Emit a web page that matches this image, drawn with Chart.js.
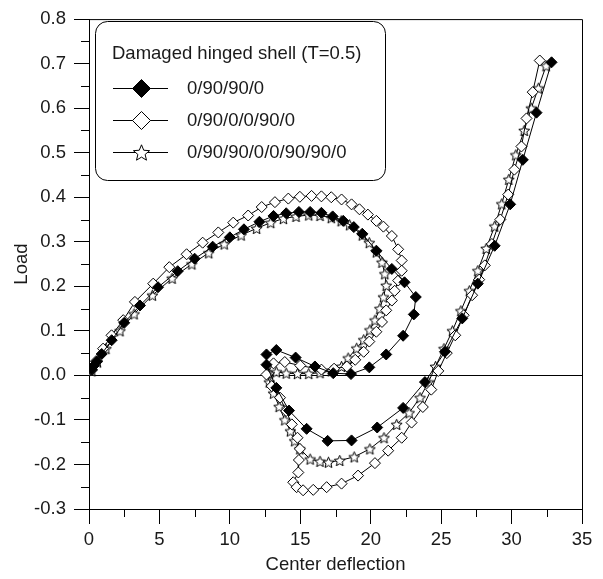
<!DOCTYPE html>
<html><head><meta charset="utf-8">
<script src="https://cdn.jsdelivr.net/npm/chart.js@4/dist/chart.umd.min.js"></script>
<style>html,body{margin:0;padding:0;background:#fff}canvas{display:block}</style>
</head><body>
<canvas id="c" width="603" height="579"></canvas>
<script>
// ---------- data ----------
const legendTitle = 'Damaged hinged shell (T=0.5)';
const seriesNames = ['0/90/90/0', '0/90/0/0/90/0', '0/90/90/0/0/90/90/0'];
const xAxisTitle = 'Center deflection';
const yAxisTitle = 'Load';
const xTickValues = [0, 5, 10, 15, 20, 25, 30, 35];
const yTickValues = [-0.3, -0.2, -0.1, 0.0, 0.1, 0.2, 0.3, 0.4, 0.5, 0.6, 0.7, 0.8];
const xMinorTicks = [2.5, 7.5, 12.5, 17.5, 22.5, 27.5, 32.5];
const yMinorTicks = [-0.25, -0.15, -0.05, 0.05, 0.15, 0.25, 0.35, 0.45, 0.55, 0.65, 0.75];

// 0/90/90/0 (filled diamonds)
const s1x = [0.19,0.35,0.55,0.9,1.61,2.5,3.62,4.9,6.3,7.5,8.78,10.0,11.0,12.1,13.1,14.0,14.9,15.7,16.5,17.3,18.05,18.8,19.4,20.4,21.5,22.4,23.2,23.06,22.3,21.1,19.9,18.6,17.34,16.04,14.67,13.3,12.6,12.6,13.3,14.2,15.45,16.94,18.64,20.46,22.3,23.85,25.27,26.5,27.6,28.8,29.9,30.8,31.77,32.84];
const s1y = [0.013,0.022,0.031,0.048,0.079,0.118,0.157,0.198,0.234,0.262,0.289,0.31,0.328,0.345,0.358,0.364,0.367,0.367,0.365,0.357,0.347,0.333,0.318,0.28,0.239,0.209,0.176,0.137,0.089,0.047,0.018,0.003,0.005,0.02,0.04,0.057,0.047,0.024,-0.028,-0.079,-0.12,-0.147,-0.146,-0.117,-0.073,-0.015,0.053,0.128,0.206,0.291,0.384,0.484,0.59,0.703];

// 0/90/0/0/90/0 (open diamonds)
const s2x = [0.2,0.5,1.0,1.6,2.43,3.26,4.56,5.7,6.93,8.07,9.18,10.24,11.3,12.26,13.2,14.15,14.97,15.8,16.5,17.2,17.93,18.64,19.2,19.8,20.4,20.9,21.5,21.95,22.2,22.2,21.95,21.7,21.5,21.1,20.8,20.4,19.9,19.5,18.9,18.3,17.4,16.5,15.0,13.9,13.1,12.6,12.97,13.56,14.0,14.4,14.8,14.97,14.9,14.86,14.5,14.74,15.2,15.92,16.87,17.93,19.1,20.3,21.24,22.2,22.9,23.7,24.3,24.8,25.4,26.0,26.6,27.2,27.7,28.1,28.6,29.2,29.76,30.2,30.7,31.06,31.5,32.0];
const s2y = [0.012,0.032,0.06,0.09,0.124,0.165,0.206,0.243,0.272,0.298,0.321,0.343,0.359,0.378,0.389,0.397,0.401,0.403,0.402,0.4,0.395,0.384,0.373,0.361,0.347,0.334,0.313,0.283,0.258,0.235,0.213,0.19,0.168,0.146,0.12,0.098,0.076,0.053,0.035,0.02,0.015,0.013,0.022,0.03,0.027,0.002,-0.024,-0.05,-0.08,-0.11,-0.14,-0.165,-0.19,-0.218,-0.24,-0.251,-0.258,-0.257,-0.251,-0.243,-0.225,-0.197,-0.169,-0.14,-0.106,-0.071,-0.032,0.01,0.05,0.09,0.135,0.18,0.215,0.247,0.295,0.35,0.406,0.462,0.514,0.577,0.636,0.707];

// 0/90/90/0/0/90/90/0 (open stars)
const s3x = [0.2,0.6,1.2,2.2,3.2,4.5,5.9,7.3,8.5,9.6,10.8,11.9,12.9,13.8,14.7,15.6,16.4,17.2,17.9,18.5,19.4,19.9,20.4,20.8,21.0,21.1,20.9,20.65,20.3,19.94,19.5,19.0,18.4,17.93,17.2,16.4,15.6,14.8,14.0,13.3,12.8,12.8,13.1,13.5,13.9,14.3,14.6,14.97,15.7,16.4,17.0,17.8,18.83,19.94,20.94,21.84,22.73,23.5,24.1,24.6,25.2,25.8,26.4,27.0,27.6,28.2,28.8,29.3,29.8,30.3,30.9,31.4,31.9,32.45];
const s3y = [0.01,0.03,0.06,0.1,0.138,0.18,0.218,0.25,0.275,0.295,0.315,0.33,0.343,0.352,0.357,0.36,0.359,0.354,0.347,0.338,0.315,0.298,0.277,0.254,0.228,0.202,0.176,0.15,0.124,0.102,0.08,0.061,0.039,0.02,0.01,0.006,0.004,0.004,0.005,0.008,0.004,-0.015,-0.04,-0.07,-0.1,-0.125,-0.147,-0.165,-0.188,-0.193,-0.195,-0.191,-0.183,-0.165,-0.14,-0.11,-0.084,-0.05,-0.015,0.02,0.06,0.1,0.145,0.19,0.235,0.285,0.335,0.385,0.44,0.495,0.55,0.6,0.645,0.695];

// ---------- helpers ----------
const pts = (xs, ys) => xs.map((x, i) => ({x, y: ys[i]}));

function starPath(ctx, cx, cy, R, r) {
  ctx.beginPath();
  for (let i = 0; i < 10; i++) {
    const rad = i % 2 === 0 ? R : r;
    const a = -Math.PI / 2 + i * Math.PI / 5;
    const px = cx + rad * Math.cos(a), py = cy + rad * Math.sin(a);
    if (i === 0) ctx.moveTo(px, py); else ctx.lineTo(px, py);
  }
  ctx.closePath();
}
function makeStar(size) {
  const c = document.createElement('canvas');
  c.width = size; c.height = size;
  const g = c.getContext('2d');
  starPath(g, size / 2, size / 2 + 0.6, size / 2 - 0.7, (size / 2 - 0.7) * 0.45);
  g.fillStyle = '#fff'; g.fill();
  g.strokeStyle = '#000'; g.lineWidth = 1; g.stroke();
  return c;
}
const starImg = makeStar(13);

const FONT = "'Liberation Sans', Arial, sans-serif";
const FS = 18.5;
const TXT = '#1a1a1a';

const decor = {
  id: 'decor',
  beforeDatasetsDraw(chart) {
    const {ctx, chartArea: a, scales: {y}} = chart;
    ctx.save();
    ctx.strokeStyle = '#000'; ctx.lineWidth = 1;
    const y0 = Math.round(y.getPixelForValue(0)) + 0.5;
    ctx.beginPath(); ctx.moveTo(a.left, y0); ctx.lineTo(a.right, y0); ctx.stroke();
    ctx.restore();
  },
  afterDraw(chart) {
    const {ctx, chartArea: a, scales: {x, y}} = chart;
    ctx.save();
    ctx.strokeStyle = '#000'; ctx.lineWidth = 1;
    // top & right frame
    ctx.beginPath();
    ctx.moveTo(a.left, a.top + 0.5); ctx.lineTo(Math.round(a.right) + 0.5, a.top + 0.5);
    ctx.lineTo(Math.round(a.right) + 0.5, a.bottom);
    ctx.stroke();
    // minor ticks
    ctx.beginPath();
    xMinorTicks.forEach(v => {
      const px = Math.round(x.getPixelForValue(v)) + 0.5;
      ctx.moveTo(px, a.bottom); ctx.lineTo(px, a.bottom + 8);
    });
    yMinorTicks.forEach(v => {
      const py = Math.round(y.getPixelForValue(v)) + 0.5;
      ctx.moveTo(a.left, py); ctx.lineTo(a.left - 8, py);
    });
    ctx.stroke();
    // legend box
    const bx = 95.5, by = 21.5, bw = 290, bh = 159, br = 12;
    ctx.beginPath();
    ctx.moveTo(bx + br, by);
    ctx.arcTo(bx + bw, by, bx + bw, by + bh, br);
    ctx.arcTo(bx + bw, by + bh, bx, by + bh, br);
    ctx.arcTo(bx, by + bh, bx, by, br);
    ctx.arcTo(bx, by, bx + bw, by, br);
    ctx.closePath();
    ctx.fillStyle = '#fff'; ctx.fill(); ctx.stroke();
    ctx.fillStyle = TXT;
    ctx.font = FS + 'px ' + FONT;
    ctx.textBaseline = 'middle'; ctx.textAlign = 'left';
    ctx.fillText(legendTitle, 112, 54);
    const rows = [88, 120, 152];
    rows.forEach((ry, i) => {
      ctx.beginPath(); ctx.moveTo(113, ry + 0.5); ctx.lineTo(168, ry + 0.5); ctx.stroke();
      const cx = 141.5, cy = ry + 0.5;
      if (i < 2) {
        ctx.beginPath();
        ctx.moveTo(cx, cy - 9); ctx.lineTo(cx + 9, cy); ctx.lineTo(cx, cy + 9); ctx.lineTo(cx - 9, cy); ctx.closePath();
        ctx.fillStyle = i === 0 ? '#000' : '#fff'; ctx.fill(); ctx.stroke();
      } else {
        starPath(ctx, cx, cy + 0.8, 8.5, 3.8);
        ctx.fillStyle = '#fff'; ctx.fill(); ctx.stroke();
      }
      ctx.fillStyle = TXT;
      ctx.fillText(seriesNames[i], 187, ry + 1);
    });
    ctx.restore();
  }
};

const common = {showLine: true, borderColor: '#000', borderWidth: 1, tension: 0, pointBorderWidth: 1, pointHoverRadius: 5};

new Chart(document.getElementById('c'), {
  type: 'scatter',
  data: {
    datasets: [
      {...common, label: seriesNames[0], data: pts(s1x, s1y), pointStyle: 'rectRot', pointRadius: 5.5, backgroundColor: '#000', pointBackgroundColor: '#000', pointBorderColor: '#000'},
      {...common, label: seriesNames[1], data: pts(s2x, s2y), pointStyle: 'rectRot', pointRadius: 5.5, backgroundColor: '#fff', pointBackgroundColor: '#fff', pointBorderColor: '#000'},
      {...common, label: seriesNames[2], data: pts(s3x, s3y), pointStyle: starImg, pointRadius: 6, backgroundColor: '#fff', pointBackgroundColor: '#fff', pointBorderColor: '#000'}
    ]
  },
  options: {
    responsive: false, animation: false,
    layout: {padding: {top: 15, right: 21, left: 0, bottom: 0}},
    plugins: {legend: {display: false}, tooltip: {enabled: false}},
    scales: {
      x: {
        type: 'linear', min: 0, max: 35,
        afterBuildTicks: s => { s.ticks = xTickValues.map(v => ({value: v})); },
        afterFit: s => { s.height = 70; },
        ticks: {color: TXT, font: {size: FS, family: FONT}, padding: 5, maxRotation: 0},
        grid: {drawOnChartArea: false, drawTicks: true, tickLength: 15, color: '#000'},
        border: {display: true, color: '#000'},
        title: {display: true, text: xAxisTitle, color: TXT, font: {size: FS, family: FONT}, padding: {top: 0, bottom: 3}}
      },
      y: {
        type: 'linear', min: -0.3, max: 0.8,
        afterBuildTicks: s => { s.ticks = yTickValues.map(v => ({value: v})); },
        afterFit: s => { s.width = 89; },
        ticks: {color: TXT, font: {size: FS, family: FONT}, padding: 8, callback: v => Number(v).toFixed(1)},
        grid: {drawOnChartArea: false, drawTicks: true, tickLength: 15, color: '#000'},
        border: {display: true, color: '#000'},
        title: {display: true, text: yAxisTitle, color: TXT, font: {size: FS, family: FONT}, padding: {top: 11, bottom: 0}}
      }
    }
  },
  plugins: [decor]
});
</script>
</body></html>
